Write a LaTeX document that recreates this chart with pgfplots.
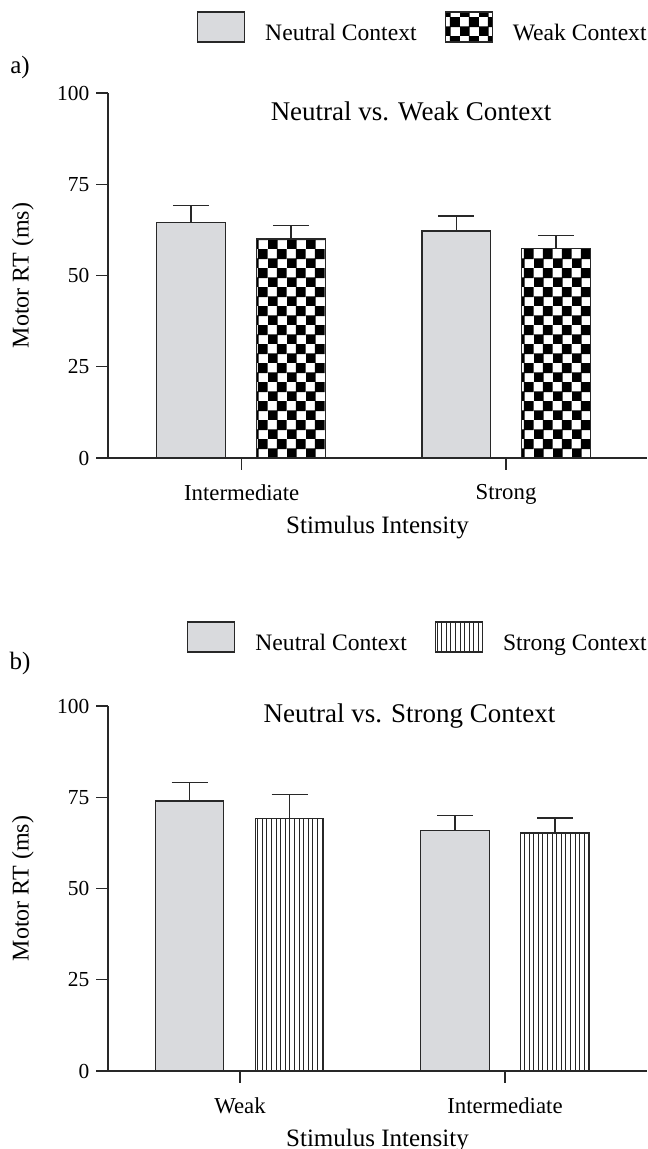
\documentclass[border=0pt]{standalone}
\usepackage{fontspec}
\setmainfont{Liberation Serif}
\usepackage{pgfplots}
\pgfplotsset{compat=1.18}
\usetikzlibrary{patterns,patterns.meta}
\definecolor{neutralgray}{RGB}{217,218,221}
\definecolor{edge}{RGB}{40,40,40}
\pgfdeclarepatternformonly{bigcheck}{\pgfpointorigin}{\pgfqpoint{9.6pt}{9.6pt}}{\pgfqpoint{9.6pt}{9.6pt}}{%
  \pgfpathrectangle{\pgfqpoint{-0.15pt}{-0.15pt}}{\pgfqpoint{5.1pt}{5.1pt}}%
  \pgfpathrectangle{\pgfqpoint{4.65pt}{4.65pt}}{\pgfqpoint{5.1pt}{5.1pt}}%
  \pgfusepath{fill}}

\pgfplotsset{
  mylegend/.style={legend image code/.code={\draw[##1, draw=edge, line width=0.6pt] (0pt,-4pt) rectangle (23.5pt,11pt);}},
  myerr/.style={
    error bars/y dir=plus, error bars/y explicit,
    error bars/error bar style={edge, line width=0.6pt},
    error bars/error mark options={rotate=90, mark size=9pt, line width=0.6pt, edge}},
  mybar/.style={ybar, bar width=68.5, bar shift=0pt, draw=edge, line width=0.6pt, myerr, mylegend},
  rtaxis/.style={
    x=0.5pt, y=1.825pt,
    xmin=108, xmax=647, ymin=0, ymax=100,
    axis x line*=bottom, axis y line*=left,
    axis line style={edge, line width=0.6pt},
    ytick={0,25,50,75,100},
    tick align=outside, major tick length=5.8pt,
    tick style={edge, line width=0.6pt},
    /pgf/number format/assume math mode=true,
    yticklabel style={font=\fontsize{10.7}{12}\selectfont},
    xticklabel style={font=\fontsize{11.4}{13}\selectfont, yshift=-4pt},
    ylabel={Motor RT (ms)},
    ylabel style={font=\fontsize{12}{14}\selectfont, at={(axis description cs:-0.158,0.5)}, anchor=center},
    xlabel={Stimulus Intensity},
    xlabel style={font=\fontsize{12.5}{14}\selectfont, at={(axis description cs:0.5,0)}, anchor=base, yshift=-37.5pt},
    legend columns=2,
    legend style={draw=none, fill=none, inner sep=0pt, at={(rel axis cs:1,1)}, anchor=south east,
      font=\fontsize{11.8}{14}\selectfont, nodes={inner sep=0pt},
      /tikz/every odd column/.append style={column sep=10pt},
      /tikz/every even column/.append style={column sep=14pt}},
    title style={font=\fontsize{13.5}{15}\selectfont, anchor=base},
  }
}

\begin{document}
\begin{tikzpicture}
\useasboundingbox (0,0) rectangle (323.5pt,-574.5pt);

% Panel a
\begin{axis}[rtaxis,
  at={(54pt,-229pt)}, anchor=south west,
  xtick={241.7,506}, xticklabels={Intermediate,Strong},
  legend style={yshift=24.5pt},
  title={Neutral vs. Weak Context},
  title style={at={(axis cs:411,100)}, yshift=-20pt},
]
\addplot[mybar, fill=neutralgray] table[x=x, y=y, y error=e] {
x y e
190.9 64.6 4.6
456.2 62.2 4.1
};
\addplot[mybar, pattern=bigcheck, pattern color=black] table[x=x, y=y, y error=e] {
x y e
290.9 60.0 3.8
555.9 57.5 3.4
};
\legend{Neutral Context, Weak Context}
\end{axis}

% Panel b
\begin{axis}[rtaxis,
  at={(54pt,-535.5pt)}, anchor=south west,
  xtick={240,505}, xticklabels={Weak,Intermediate},
  legend style={yshift=26pt},
  title={Neutral vs. Strong Context},
  title style={at={(axis cs:409.5,100)}, yshift=-14pt},
]
\addplot[mybar, fill=neutralgray] table[x=x, y=y, y error=e] {
x y e
189.5 74.0 5.0
455.0 65.9 4.2
};
\addplot[mybar, pattern={Lines[angle=90,distance=2.3pt,line width=0.5pt]}, pattern color=black!85] table[x=x, y=y, y error=e] {
x y e
289.5 69.2 6.5
555.0 65.2 4.1
};
\legend{Neutral Context, Strong Context}
\end{axis}

\node[font=\fontsize{12.5}{14}\selectfont] at (10pt,-33.5pt) {a)};
\node[font=\fontsize{12.5}{14}\selectfont] at (10pt,-331.5pt) {b)};
\end{tikzpicture}
\end{document}
